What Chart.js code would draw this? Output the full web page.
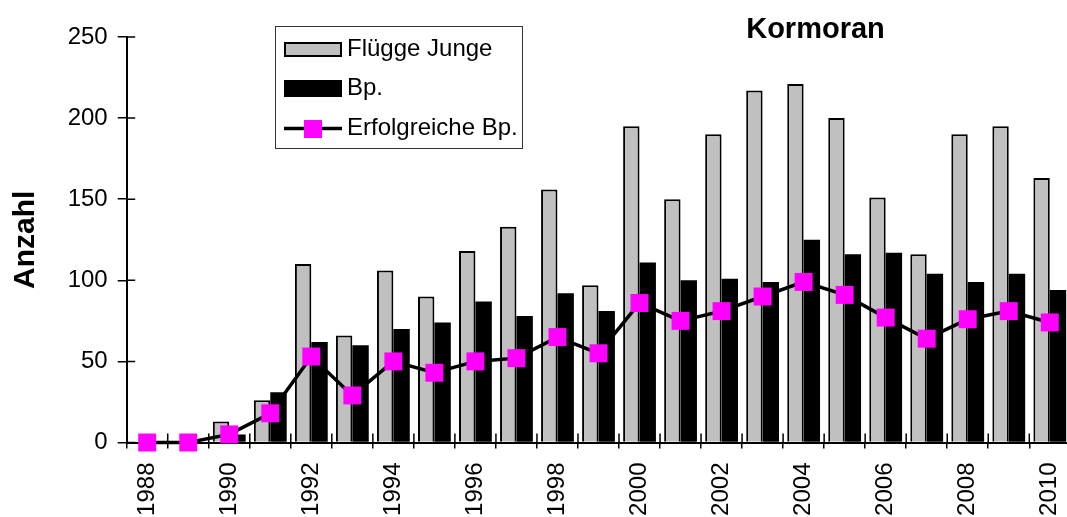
<!DOCTYPE html>
<html><head><meta charset="utf-8">
<script src="https://cdn.jsdelivr.net/npm/chart.js@4/dist/chart.umd.min.js"></script>
<style>html,body{margin:0;padding:0;overflow:hidden;background:#fff;width:1067px;height:517px}canvas{display:block}</style>
</head><body>
<canvas id="c" width="1083" height="530"></canvas>
<script>
const years = ['1988','1989','1990','1991','1992','1993','1994','1995','1996','1997','1998','1999','2000','2001','2002','2003','2004','2005','2006','2007','2008','2009','2010'];
const fluggeJunge = [0,0,13,26,110,66,106,90,118,133,156,97,195,150,190,217,221,200,151,116,190,195,163];
const brutpaare = [0,0,5,31,62,60,70,74,87,78,92,81,111,100,101,99,125,116,117,104,99,104,94];
const erfolgreicheBp = [0,0,5,18,53,29,50,43,50,52,65,55,86,75,81,90,99,91,77,64,76,81,74];
const yTicks = [0,50,100,150,200,250];
const chartTitle = 'Kormoran';
const yAxisTitle = 'Anzahl';
const seriesLabels = ['Flügge Junge','Bp.','Erfolgreiche Bp.'];

const FONT = "'Liberation Sans', Arial, sans-serif";

const innerTicks = {
  id: 'innerTicks',
  beforeDatasetsDraw(chart) {
    const ctx = chart.ctx, x = chart.scales.x, y = chart.scales.y;
    ctx.save();
    ctx.strokeStyle = '#000';
    ctx.lineWidth = 1.5;
    ctx.beginPath();
    y.ticks.forEach(t => {
      const py = y.getPixelForValue(t.value);
      ctx.moveTo(x.left, py); ctx.lineTo(x.left + 8.5, py);
    });
    for (let i = 1; i <= years.length; i++) {
      const px = x.left + (x.right - x.left) * i / years.length;
      ctx.moveTo(px, y.bottom); ctx.lineTo(px, y.bottom - 9);
    }
    ctx.stroke();
    ctx.restore();
  }
};

const titleAndLegend = {
  id: 'titleAndLegend',
  afterDraw(chart) {
    const ctx = chart.ctx;
    ctx.save();
    ctx.fillStyle = '#000';
    ctx.font = 'bold 29px ' + FONT;
    ctx.textAlign = 'center';
    ctx.textBaseline = 'alphabetic';
    ctx.fillText(chartTitle, 815.5, 37.5);
    ctx.fillStyle = '#fff';
    ctx.fillRect(275, 26, 247, 122);
    ctx.strokeStyle = '#333';
    ctx.lineWidth = 1;
    ctx.strokeRect(275.5, 26.5, 247, 122);
    const ds = chart.data.datasets;
    ctx.fillStyle = ds[1].backgroundColor;
    ctx.fillRect(284, 42, 58, 15);
    ctx.strokeStyle = '#000';
    ctx.lineWidth = 2;
    ctx.strokeRect(285, 43, 56, 13);
    ctx.fillStyle = ds[2].backgroundColor;
    ctx.fillRect(284, 80, 58, 17);
    ctx.strokeStyle = '#000';
    ctx.lineWidth = 3.5;
    ctx.beginPath(); ctx.moveTo(284, 128.5); ctx.lineTo(342, 128.5); ctx.stroke();
    ctx.fillStyle = ds[0].pointBackgroundColor;
    ctx.fillRect(304, 120, 18, 18);
    ctx.fillStyle = '#000';
    ctx.font = '24px ' + FONT;
    ctx.textAlign = 'left';
    ctx.fillText(ds[1].label, 347, 55.5);
    ctx.fillText(ds[2].label, 347, 95);
    ctx.fillText(ds[0].label, 347, 135);
    ctx.restore();
  }
};

new Chart(document.getElementById('c'), {
  data: {
    labels: years,
    datasets: [
      {
        type: 'line', label: seriesLabels[2], data: erfolgreicheBp, order: 0,
        borderColor: '#000', borderWidth: 3.5, pointStyle: 'rect', pointRadius: 12.7,
        pointBackgroundColor: '#FF00FF', pointBorderColor: '#FF00FF', pointBorderWidth: 0,
        pointHoverRadius: 12.7, tension: 0, clip: false
      },
      {
        type: 'bar', label: seriesLabels[0], data: fluggeJunge, order: 1,
        backgroundColor: '#C0C0C0', borderColor: '#000', borderWidth: 2,
        categoryPercentage: 0.8, barPercentage: 1.0
      },
      {
        type: 'bar', label: seriesLabels[1], data: brutpaare, order: 1,
        backgroundColor: '#000', borderWidth: 0,
        categoryPercentage: 0.8, barPercentage: 1.0
      }
    ]
  },
  options: {
    responsive: false, animation: false, devicePixelRatio: 1,
    layout: { padding: { top: 37, left: 0, right: 0, bottom: 0 } },
    plugins: { legend: { display: false }, tooltip: { enabled: false }, title: { display: false } },
    scales: {
      x: {
        offset: true,
        grid: { offset: true, drawOnChartArea: false, drawTicks: true, tickLength: 6, color: '#000', lineWidth: 1.5 },
        border: { display: true, color: '#000', width: 2 },
        ticks: {
          autoSkip: false, minRotation: 90, maxRotation: 90, padding: 14, color: '#000',
          font: { family: FONT, size: 24 },
          callback: (v, i) => (i % 2 === 0 ? years[i] : '')
        },
        afterFit: s => { s.height = 87.5; s.paddingLeft = 0; s.paddingRight = 0; }
      },
      y: {
        min: 0, max: 250,
        afterBuildTicks: s => { s.ticks = yTicks.map(v => ({ value: v })); },
        grid: { drawOnChartArea: false, drawTicks: true, tickLength: 9, color: '#000', lineWidth: 1.5 },
        border: { display: true, color: '#000', width: 2 },
        ticks: { padding: 10, color: '#000', font: { family: FONT, size: 24 } },
        title: { display: true, text: yAxisTitle, color: '#000', font: { family: FONT, size: 30, weight: 'bold' }, padding: { top: 8, bottom: 0 } },
        afterFit: s => { s.width = 126.7; }
      }
    }
  },
  plugins: [innerTicks, titleAndLegend]
});
</script>
</body></html>
